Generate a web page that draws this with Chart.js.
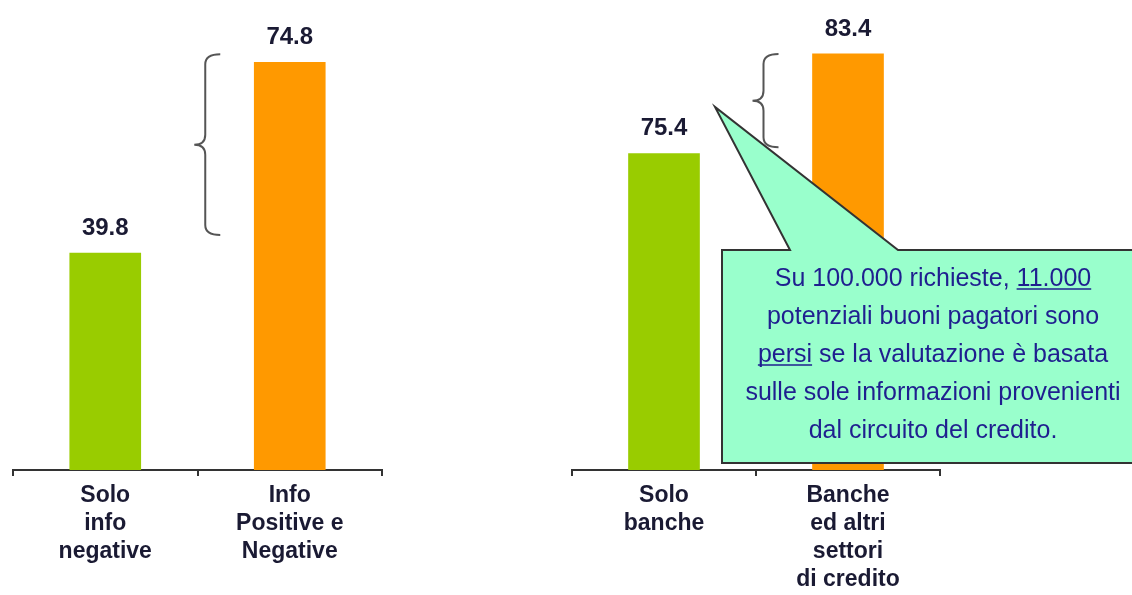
<!DOCTYPE html>
<html>
<head>
<meta charset="utf-8">
<script src="https://cdn.jsdelivr.net/npm/chart.js@4.4.1/dist/chart.umd.min.js"></script>
<style>
  html, body { margin: 0; padding: 0; background: #fff; }
  #wrap { position: relative; width: 1132px; height: 595px; overflow: hidden; }
  canvas { position: absolute; top: 0; }
</style>
</head>
<body>
<div id="wrap">
  <canvas id="left" width="560" height="595" style="left:0"></canvas>
  <canvas id="right" width="572" height="595" style="left:560px"></canvas>
</div>
<script>
// dati pannello sinistro
var leftLabels = [["Solo", "info", "negative"], ["Info", "Positive e", "Negative"]];
var leftValues = [39.8, 74.8];
// dati pannello destro
var rightLabels = [["Solo", "banche"], ["Banche", "ed altri", "settori", "di credito"]];
var rightValues = [75.4, 83.4];

var barColors = ['#99cc00', '#ff9900'];
var calloutLines = [
  [{ t: 'Su 100.000 richieste, ' }, { t: '11.000', u: true }],
  [{ t: 'potenziali buoni pagatori sono' }],
  [{ t: 'persi', u: true }, { t: ' se la valutazione è basata' }],
  [{ t: 'sulle sole informazioni provenienti' }],
  [{ t: 'dal circuito del credito.' }]
];

var FONT = 'Arial, "Liberation Sans", sans-serif';

// etichette sopra le barre + parentesi graffa
var barExtras = {
  id: 'barExtras',
  afterDatasetsDraw: function (chart, args, opts) {
    var ctx = chart.ctx;
    var meta = chart.getDatasetMeta(0);
    var ds = chart.data.datasets[0];
    ctx.save();
    ctx.font = 'bold 24px ' + FONT;
    ctx.fillStyle = '#1a1a33';
    ctx.textAlign = 'center';
    ctx.textBaseline = 'middle';
    meta.data.forEach(function (bar, i) {
      ctx.fillText(ds.data[i].toFixed(1), bar.x, bar.y - 25);
    });

    // graffa accanto alla seconda barra
    var y = chart.scales.y;
    var bar2 = meta.data[1];
    var ex = bar2.x - bar2.width / 2 - 34;
    var sx = ex - 15;
    var tx = ex - 26;
    var y0 = y.getPixelForValue(opts.from);
    var y1 = y.getPixelForValue(opts.to);
    var ym = (y0 + y1) / 2;
    var r = 10;
    ctx.strokeStyle = '#555';
    ctx.lineWidth = 2;
    ctx.beginPath();
    ctx.moveTo(ex, y0);
    ctx.quadraticCurveTo(sx, y0, sx, y0 + r);
    ctx.lineTo(sx, ym - r);
    ctx.quadraticCurveTo(sx, ym, tx, ym);
    ctx.quadraticCurveTo(sx, ym, sx, ym + r);
    ctx.lineTo(sx, y1 - r);
    ctx.quadraticCurveTo(sx, y1, ex, y1);
    ctx.stroke();
    ctx.restore();
  }
};

// fumetto con il testo
var callout = {
  id: 'callout',
  afterDraw: function (chart) {
    var ctx = chart.ctx;
    ctx.save();
    ctx.beginPath();
    ctx.moveTo(162, 250);
    ctx.lineTo(230, 250);
    ctx.lineTo(155, 107);
    ctx.lineTo(338, 250);
    ctx.lineTo(620, 250);
    ctx.lineTo(620, 463);
    ctx.lineTo(162, 463);
    ctx.closePath();
    ctx.fillStyle = '#99ffcc';
    ctx.fill();
    ctx.strokeStyle = '#333';
    ctx.lineWidth = 2;
    ctx.stroke();

    ctx.font = '25px ' + FONT;
    ctx.fillStyle = '#1f1f8f';
    ctx.strokeStyle = '#1f1f8f';
    ctx.lineWidth = 1.5;
    ctx.textBaseline = 'alphabetic';
    ctx.textAlign = 'left';
    var cx = 373;
    calloutLines.forEach(function (line, i) {
      var yc = 277 + i * 38;
      var base = yc + 9;
      var total = 0;
      line.forEach(function (s) { total += ctx.measureText(s.t).width; });
      var x = cx - total / 2;
      line.forEach(function (s) {
        var w = ctx.measureText(s.t).width;
        ctx.fillText(s.t, x, base);
        if (s.u) {
          ctx.beginPath();
          ctx.moveTo(x, base + 3);
          ctx.lineTo(x + w, base + 3);
          ctx.stroke();
        }
        x += w;
      });
    });
    ctx.restore();
  }
};

function makeChart(id, labels, values, yMin, yMax, pad, brace, plugins) {
  return new Chart(document.getElementById(id), {
    type: 'bar',
    data: {
      labels: labels,
      datasets: [{
        data: values,
        backgroundColor: barColors,
        borderWidth: 0,
        barThickness: 71
      }]
    },
    options: {
      responsive: false,
      animation: false,
      layout: { padding: pad },
      plugins: {
        legend: { display: false },
        tooltip: { enabled: false },
        barExtras: brace
      },
      scales: {
        x: {
          grid: {
            display: true,
            offset: true,
            drawOnChartArea: false,
            drawTicks: true,
            tickLength: 6,
            color: '#333',
            lineWidth: 2
          },
          border: { display: true, color: '#333', width: 2 },
          ticks: {
            color: '#1a1a33',
            padding: 6,
            font: { family: FONT, size: 23, weight: 'bold', lineHeight: '28px' },
            maxRotation: 0,
            autoSkip: false
          },
          afterFit: function (scale) { scale.height = 125; }
        },
        y: { display: false, min: yMin, max: yMax }
      }
    },
    plugins: plugins
  });
}

makeChart('left', leftLabels, leftValues, 0, 80,
  { left: 13, right: 178, top: 34, bottom: 0 },
  { from: 76.3, to: 43.1 }, [barExtras]);

makeChart('right', rightLabels, rightValues, 50, 85,
  { left: 12, right: 192, top: 34, bottom: 0 },
  { from: 83.4, to: 75.9 }, [barExtras, callout]);
</script>
</body>
</html>
